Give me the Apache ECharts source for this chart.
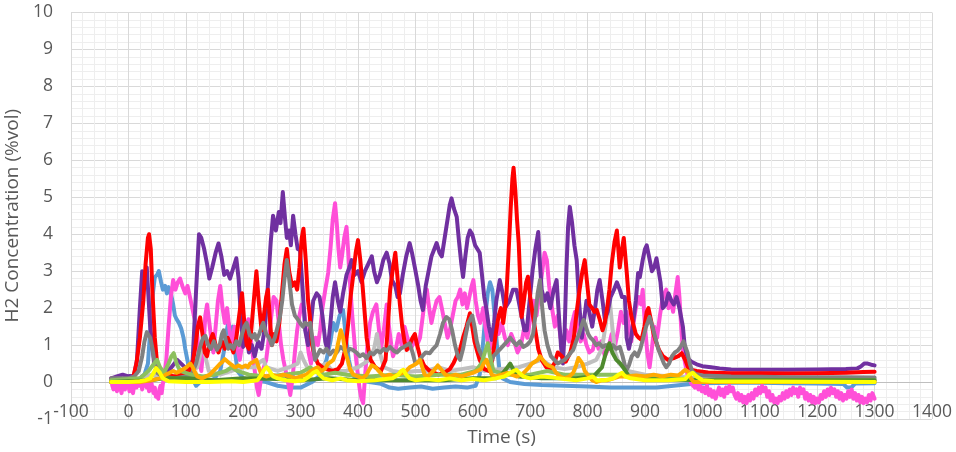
<!DOCTYPE html>
<html>
<head>
<meta charset="utf-8">
<script src="https://cdn.jsdelivr.net/npm/echarts@6/dist/echarts.min.js"></script>
<style>
  html, body { margin: 0; padding: 0; background: #ffffff; }
  #chart { width: 956px; height: 452px; }
</style>
</head>
<body>
<div id="chart"></div>
<script>
// Axis ticks
const timeTicks = { min: -100, max: 1400, step: 100 };
const concTicks = { min: -1, max: 10, step: 1 };

// Hydrogen concentration traces, [time (s), %vol]
const blueTrace = [[-30,0.0],[0,0.0],[10,0.05],[20,0.1],[28,0.2],[34,0.5],[38,1.4],[42,2.3],[46,2.84],[50,2.9],[53,3.0],[57,2.7],[60,2.5],[64,2.6],[67,2.4],[70,2.57],[74,2.4],[78,2.1],[81,1.8],[84,1.7],[88,1.6],[92,1.45],[96,1.2],[99,0.9],[104,0.5],[108,0.2],[113,0.05],[118,-0.1],[125,0.0],[132,0.1],[140,0.0],[150,0.1],[160,0.3],[166,0.8],[170,1.3],[174,1.6],[178,1.2],[182,1.5],[186,0.8],[190,0.3],[200,0.1],[220,0.05],[240,0.0],[260,-0.1],[280,-0.15],[300,-0.15],[320,0.0],[335,0.2],[345,0.6],[352,1.1],[357,1.6],[362,1.4],[368,1.8],[374,1.95],[379,1.2],[384,0.6],[390,0.2],[400,0.05],[420,0.0],[440,-0.05],[455,-0.15],[470,-0.18],[490,-0.15],[510,-0.12],[530,-0.18],[550,-0.15],[570,-0.12],[590,-0.15],[605,-0.1],[612,0.2],[617,0.9],[622,1.8],[626,2.4],[630,2.7],[634,2.5],[638,1.8],[642,1.0],[646,0.4],[652,0.1],[665,0.0],[690,-0.05],[720,-0.08],[760,-0.1],[800,-0.12],[840,-0.15],[880,-0.15],[920,-0.15],[950,-0.1],[980,-0.05],[1000,-0.03],[1050,-0.02],[1100,-0.02],[1150,-0.03],[1200,-0.04],[1245,-0.05],[1252,-0.15],[1260,-0.14],[1266,-0.04],[1300,-0.03]];

const magentaTrace = [[-30,0.1],[-28,-0.1],[-26,-0.2],[-24,0.05],[-22,-0.05],[-20,-0.25],[-18,-0.1],[-16,0.05],[-14,-0.15],[-12,-0.3],[-10,-0.1],[-8,0.0],[-6,-0.2],[-4,0.05],[-2,0.1],[0,-0.1],[2,-0.25],[4,-0.05],[6,-0.2],[8,-0.3],[10,-0.1],[12,0.0],[14,-0.15],[16,-0.05],[18,0.05],[20,-0.1],[22,0.0],[24,-0.2],[26,-0.05],[28,0.1],[30,0.0],[32,-0.15],[34,-0.05],[36,-0.25],[38,-0.1],[40,0.0],[42,-0.2],[44,-0.3],[46,-0.15],[48,-0.4],[50,-0.3],[52,-0.45],[54,-0.2],[56,-0.1],[58,-0.3],[60,-0.05],[62,0.1],[66,0.6],[70,1.5],[74,2.3],[78,2.76],[82,2.5],[86,2.7],[90,2.8],[94,2.6],[99,2.4],[103,2.6],[106,2.55],[110,2.1],[114,1.8],[119,1.5],[123,0.6],[127,0.3],[131,1.0],[134,1.8],[137,2.1],[141,1.6],[145,1.1],[148,0.8],[152,1.5],[156,2.2],[160,2.6],[164,2.0],[168,1.6],[172,2.0],[177,1.3],[181,1.1],[185,1.5],[190,0.9],[194,0.6],[198,1.0],[203,1.4],[209,1.7],[213,1.2],[217,0.7],[221,0.2],[224,-0.15],[227,-0.35],[231,0.1],[236,0.4],[240,0.6],[244,1.1],[249,1.8],[253,2.3],[258,2.2],[262,1.6],[266,1.0],[270,0.6],[274,0.3],[278,0.0],[282,-0.35],[286,0.1],[290,0.8],[294,1.4],[298,1.8],[302,2.1],[306,2.0],[310,1.3],[314,0.8],[318,0.5],[322,0.9],[326,1.2],[330,1.0],[334,1.4],[338,2.0],[343,2.5],[348,2.95],[352,3.6],[356,4.4],[360,4.84],[363,4.3],[366,3.6],[369,3.1],[372,3.4],[376,3.9],[380,4.2],[383,3.5],[386,2.7],[390,1.8],[395,0.87],[399,0.3],[403,-0.2],[406,-0.45],[409,-0.57],[412,0.1],[416,0.9],[421,1.6],[426,1.9],[432,2.1],[436,1.5],[440,0.9],[445,1.4],[450,2.1],[454,1.5],[458,1.0],[461,0.7],[466,0.9],[471,1.3],[476,1.0],[481,1.5],[486,1.2],[492,0.9],[498,1.1],[503,1.0],[508,1.2],[513,1.8],[517,2.3],[520,2.5],[524,2.0],[528,1.6],[532,1.9],[537,2.2],[542,2.3],[546,2.0],[551,1.6],[556,1.2],[560,1.4],[565,1.8],[570,2.2],[574,2.3],[578,2.5],[582,2.1],[586,2.4],[590,2.0],[594,2.3],[598,2.6],[601,2.76],[605,2.2],[609,1.8],[613,1.6],[618,2.0],[622,1.5],[626,1.1],[630,0.9],[635,1.2],[640,1.5],[645,1.3],[650,1.6],[656,1.2],[661,1.0],[667,1.3],[672,1.1],[678,0.8],[684,1.0],[690,1.5],[695,1.2],[700,1.7],[706,2.2],[711,1.8],[716,2.4],[721,3.0],[725,3.5],[729,3.3],[733,2.6],[738,2.0],[743,1.5],[748,1.8],[753,1.2],[758,1.0],[763,1.4],[768,1.1],[773,1.6],[778,1.9],[783,1.4],[788,1.1],[793,1.3],[798,1.0],[803,0.8],[809,0.87],[814,1.2],[819,0.9],[824,1.1],[830,0.7],[836,0.9],[842,1.3],[848,1.0],[853,1.4],[858,1.9],[863,1.6],[868,1.9],[872,1.5],[876,1.1],[880,1.6],[884,2.0],[889,2.3],[893,2.1],[896,2.5],[900,1.5],[904,0.8],[908,0.4],[912,0.9],[916,1.5],[921,1.2],[926,1.8],[930,2.2],[934,2.4],[937,2.5],[941,2.0],[945,2.2],[949,1.9],[953,2.4],[957,2.84],[960,2.3],[963,1.5],[966,0.87],[970,0.5],[974,0.2],[978,0.05],[981,-0.05],[984,0.0],[987,-0.15],[990,-0.05],[993,-0.2],[996,-0.1],[999,-0.25],[1002,-0.15],[1005,-0.3],[1008,-0.1],[1011,-0.35],[1014,-0.2],[1017,-0.4],[1020,-0.25],[1023,-0.45],[1026,-0.3],[1029,-0.15],[1032,-0.35],[1035,-0.2],[1038,-0.4],[1041,-0.15],[1044,-0.3],[1047,-0.1],[1050,-0.25],[1053,-0.15],[1056,-0.35],[1059,-0.45],[1062,-0.3],[1065,-0.5],[1068,-0.35],[1071,-0.55],[1074,-0.4],[1077,-0.57],[1080,-0.35],[1083,-0.5],[1086,-0.3],[1089,-0.45],[1092,-0.2],[1095,-0.35],[1098,-0.15],[1101,-0.3],[1104,-0.1],[1107,-0.25],[1110,-0.15],[1113,-0.4],[1116,-0.25],[1119,-0.5],[1122,-0.35],[1125,-0.55],[1128,-0.45],[1131,-0.57],[1134,-0.4],[1137,-0.5],[1140,-0.3],[1143,-0.45],[1146,-0.25],[1149,-0.4],[1152,-0.2],[1155,-0.35],[1158,-0.15],[1161,-0.3],[1164,-0.2],[1167,-0.4],[1170,-0.15],[1173,-0.3],[1176,-0.2],[1179,-0.45],[1182,-0.3],[1185,-0.5],[1188,-0.35],[1191,-0.55],[1194,-0.4],[1197,-0.57],[1200,-0.45],[1203,-0.55],[1206,-0.35],[1209,-0.45],[1212,-0.25],[1215,-0.4],[1218,-0.2],[1221,-0.35],[1224,-0.15],[1227,-0.3],[1230,-0.2],[1233,-0.4],[1236,-0.25],[1239,-0.45],[1242,-0.3],[1245,-0.5],[1248,-0.35],[1251,-0.45],[1254,-0.25],[1257,-0.4],[1260,-0.2],[1263,-0.45],[1266,-0.3],[1269,-0.5],[1272,-0.35],[1275,-0.55],[1278,-0.4],[1281,-0.57],[1284,-0.45],[1287,-0.55],[1290,-0.35],[1293,-0.5],[1296,-0.3],[1300,-0.45]];

const lightGreyTrace = [[-30,0.05],[20,0.1],[40,0.2],[60,0.15],[100,0.2],[120,0.4],[126,0.8],[130,1.1],[134,0.7],[140,0.3],[160,0.2],[180,0.3],[200,0.4],[220,0.4],[230,0.55],[235,0.6],[240,0.4],[260,0.3],[280,0.4],[295,0.5],[300,0.8],[305,0.6],[315,0.3],[330,0.4],[345,0.5],[355,0.3],[380,0.3],[400,0.4],[420,0.6],[428,0.9],[433,1.3],[438,0.8],[445,0.4],[460,0.3],[480,0.25],[500,0.3],[520,0.3],[540,0.4],[560,0.3],[580,0.35],[600,0.4],[620,0.3],[650,0.35],[680,0.4],[700,0.5],[720,0.6],[740,0.4],[760,0.35],[780,0.4],[800,0.5],[815,0.6],[825,0.9],[832,1.6],[838,2.3],[843,1.5],[848,0.8],[855,0.5],[870,0.3],[900,0.2],[950,0.15],[1000,0.1],[1300,0.08]];

const purpleTrace = [[-30,0.1],[-20,0.15],[-10,0.2],[0,0.15],[10,0.2],[15,0.6],[20,2.0],[24,3.0],[28,2.6],[32,3.1],[38,1.5],[45,0.5],[55,0.3],[65,0.25],[75,0.4],[85,0.6],[95,0.45],[105,0.3],[112,0.6],[118,2.5],[123,4.0],[127,3.9],[132,3.6],[137,3.2],[141,2.8],[146,3.1],[152,3.5],[157,3.75],[162,3.4],[167,2.9],[172,3.0],[177,2.8],[183,3.1],[188,3.35],[192,2.8],[196,1.8],[200,0.95],[205,1.3],[210,0.8],[215,1.0],[220,0.7],[226,1.1],[232,0.9],[238,1.5],[243,2.6],[248,3.8],[252,4.5],[257,4.1],[262,4.6],[265,4.3],[269,5.14],[273,4.4],[276,3.9],[280,4.1],[283,3.7],[287,4.5],[291,4.0],[295,3.6],[299,3.57],[304,2.4],[308,1.4],[313,1.0],[318,1.6],[322,2.2],[328,2.4],[333,2.3],[338,1.8],[343,1.1],[347,0.85],[352,1.6],[356,2.3],[360,2.7],[365,2.2],[369,1.9],[374,2.4],[380,2.9],[385,3.1],[389,3.3],[394,2.9],[400,3.0],[406,2.7],[412,3.0],[418,3.2],[424,3.4],[428,3.0],[433,2.7],[438,2.9],[444,3.3],[450,3.5],[455,3.2],[459,2.76],[465,2.6],[469,2.3],[473,2.4],[478,2.9],[484,3.4],[490,3.76],[494,3.5],[499,3.1],[505,2.6],[509,2.2],[513,1.95],[518,2.6],[523,3.0],[528,3.4],[533,3.6],[537,3.76],[542,3.5],[546,3.4],[551,3.9],[556,4.4],[560,4.8],[563,4.97],[567,4.7],[572,4.47],[576,3.8],[580,3.2],[583,2.84],[587,3.4],[591,3.9],[595,4.1],[599,4.0],[604,3.7],[608,3.6],[612,3.5],[616,2.9],[620,2.3],[624,1.95],[628,1.5],[633,1.14],[637,1.6],[641,2.2],[647,2.76],[652,2.4],[656,2.0],[659,1.95],[664,2.2],[670,2.5],[676,2.5],[681,2.1],[686,1.7],[690,1.4],[694,1.4],[699,2.2],[704,3.0],[709,3.6],[714,4.06],[717,3.2],[720,2.5],[725,2.2],[730,2.4],[735,2.0],[741,2.5],[746,2.76],[750,1.8],[754,0.9],[757,0.5],[760,1.4],[763,3.0],[766,4.2],[769,4.74],[773,4.3],[777,3.7],[781,3.3],[785,2.2],[790,1.2],[794,1.7],[798,2.2],[803,1.9],[808,1.5],[813,2.0],[817,2.5],[821,2.76],[826,2.2],[830,1.7],[835,1.9],[840,2.3],[846,2.5],[851,2.7],[856,2.5],[860,2.3],[865,2.3],[868,1.2],[872,0.9],[876,1.2],[879,1.2],[884,2.2],[888,2.95],[891,2.84],[896,3.3],[900,3.6],[903,3.7],[907,3.4],[912,3.0],[916,3.1],[920,3.35],[923,3.4],[927,2.7],[931,2.0],[936,2.1],[941,2.4],[946,2.2],[950,2.1],[955,2.3],[960,2.0],[966,1.5],[969,1.0],[972,0.78],[976,0.62],[981,0.55],[990,0.48],[1000,0.43],[1015,0.4],[1030,0.37],[1050,0.34],[1100,0.33],[1150,0.33],[1200,0.34],[1250,0.35],[1270,0.37],[1276,0.42],[1282,0.5],[1288,0.5],[1294,0.47],[1300,0.45]];

const redTrace = [[-30,0.0],[0,0.05],[8,0.1],[14,0.5],[20,1.2],[26,2.2],[30,3.2],[34,3.9],[36,4.0],[39,3.6],[42,2.4],[46,1.2],[50,0.5],[55,0.25],[65,0.2],[80,0.15],[95,0.2],[105,0.3],[112,0.5],[117,1.0],[121,1.5],[125,1.75],[129,1.3],[133,0.8],[137,0.7],[142,1.1],[147,1.3],[152,1.0],[157,0.8],[163,1.1],[168,0.9],[173,1.2],[178,1.0],[183,0.8],[188,1.2],[193,1.8],[198,2.4],[202,1.6],[206,1.0],[210,0.9],[214,1.4],[219,2.3],[223,3.0],[227,2.2],[232,1.4],[236,1.8],[240,2.3],[243,2.5],[247,1.6],[250,1.0],[254,1.3],[258,1.1],[263,1.6],[268,2.5],[272,3.2],[276,3.6],[280,3.0],[285,2.6],[290,2.7],[294,2.5],[298,3.1],[302,3.9],[305,4.15],[309,3.3],[313,2.2],[316,1.8],[320,1.0],[325,0.7],[330,0.5],[338,0.4],[345,0.35],[355,0.3],[365,0.35],[372,0.5],[378,0.9],[383,1.6],[387,2.3],[391,2.8],[396,3.5],[400,3.84],[404,3.3],[408,2.6],[412,1.8],[415,1.2],[419,0.8],[422,0.6],[430,0.4],[440,0.3],[448,0.6],[452,1.5],[456,2.5],[461,3.1],[465,3.5],[469,2.8],[473,2.1],[477,1.5],[481,1.1],[485,0.87],[490,1.0],[495,1.2],[499,1.3],[503,1.0],[508,0.7],[515,0.45],[525,0.3],[540,0.2],[550,0.25],[560,0.35],[566,0.5],[572,0.7],[578,0.9],[583,1.2],[589,1.5],[595,1.86],[599,1.5],[603,1.1],[607,0.87],[612,0.6],[620,0.35],[628,0.3],[634,0.6],[640,1.3],[645,1.8],[649,2.0],[653,1.6],[658,2.2],[662,3.4],[666,4.7],[669,5.5],[671,5.8],[674,5.2],[677,4.4],[680,3.76],[683,2.6],[685,1.76],[689,2.2],[693,2.7],[696,2.85],[700,2.3],[705,1.76],[710,1.3],[714,0.9],[720,0.6],[728,0.4],[735,0.35],[742,0.5],[748,0.8],[755,0.7],[762,0.55],[770,0.8],[776,1.2],[781,1.9],[786,2.5],[791,3.0],[795,3.3],[799,2.7],[803,2.1],[808,2.0],[812,1.9],[816,1.95],[821,1.7],[826,1.4],[830,1.6],[834,2.0],[838,2.5],[842,3.2],[847,3.8],[851,4.1],[854,3.5],[856,3.1],[860,3.6],[863,3.9],[865,3.9],[868,3.0],[872,2.2],[876,1.8],[879,1.6],[884,1.3],[889,1.2],[894,1.14],[899,1.5],[903,1.9],[906,2.0],[910,1.7],[915,1.3],[920,1.05],[925,0.85],[931,0.7],[940,0.6],[950,0.65],[958,0.7],[964,0.78],[970,0.6],[975,0.4],[982,0.33],[990,0.3],[1010,0.26],[1050,0.24],[1100,0.24],[1150,0.23],[1200,0.24],[1250,0.25],[1280,0.27],[1300,0.28]];

const darkGreyTrace = [[-30,0.1],[0,0.1],[10,0.15],[18,0.3],[24,0.7],[28,1.1],[32,1.35],[35,1.4],[38,1.2],[42,0.9],[46,0.5],[50,0.25],[60,0.15],[80,0.1],[100,0.15],[110,0.2],[118,0.5],[124,0.9],[130,1.2],[134,1.25],[139,1.0],[144,0.9],[149,1.1],[154,0.87],[159,1.0],[163,1.3],[166,1.4],[170,1.1],[174,0.9],[178,1.0],[183,0.9],[188,1.1],[193,1.0],[198,1.3],[202,1.5],[206,1.6],[211,1.3],[216,1.2],[220,1.3],[223,1.14],[228,1.3],[232,1.5],[235,1.6],[240,1.3],[245,1.2],[250,1.0],[255,1.2],[260,1.5],[264,1.76],[268,2.2],[272,2.8],[276,3.3],[280,2.8],[285,2.1],[290,1.8],[295,1.7],[299,1.6],[304,1.5],[308,1.6],[313,1.55],[317,1.6],[321,1.1],[325,0.6],[330,0.75],[334,0.87],[340,0.8],[345,0.9],[351,0.75],[357,0.85],[363,0.8],[369,0.95],[374,0.9],[380,0.8],[386,0.9],[391,0.87],[397,0.8],[403,0.7],[409,0.75],[415,0.65],[421,0.8],[427,0.75],[433,0.85],[439,0.8],[445,0.9],[450,0.85],[456,0.95],[462,0.85],[468,0.8],[474,0.9],[480,0.95],[485,1.0],[490,1.05],[495,0.8],[500,0.5],[506,0.55],[512,0.7],[518,0.8],[525,0.78],[531,0.9],[537,1.0],[543,1.3],[548,1.6],[554,1.76],[559,1.7],[564,1.4],[569,1.0],[574,0.7],[578,0.6],[583,0.9],[588,1.3],[592,1.6],[595,1.68],[599,1.8],[603,1.5],[607,1.1],[611,0.87],[616,0.7],[621,0.6],[626,0.55],[630,0.5],[636,0.7],[642,0.8],[648,0.9],[654,1.0],[660,1.1],[665,1.2],[670,1.1],[676,1.0],[682,1.1],[688,0.95],[694,1.0],[700,1.1],[705,1.3],[709,1.8],[713,2.4],[717,2.76],[721,2.0],[725,1.4],[730,1.0],[736,0.7],[742,0.6],[748,0.5],[754,0.55],[760,0.6],[766,0.7],[771,0.8],[775,0.87],[780,1.1],[785,1.3],[789,1.5],[793,1.68],[797,1.5],[801,1.3],[805,1.2],[809,1.14],[815,1.0],[820,1.05],[826,0.95],[832,1.0],[838,0.9],[844,1.0],[850,0.9],[856,0.95],[861,0.7],[865,0.45],[868,0.33],[872,0.45],[877,0.7],[882,0.8],[887,0.7],[892,0.9],[897,1.2],[902,1.5],[908,1.76],[913,1.5],[918,1.2],[923,0.9],[928,0.7],[933,0.5],[937,0.4],[942,0.5],[947,0.7],[952,0.8],[957,0.85],[962,0.95],[967,1.1],[970,1.14],[974,0.8],[978,0.5],[982,0.3],[988,0.22],[1000,0.18],[1050,0.15],[1100,0.14],[1150,0.13],[1200,0.13],[1250,0.13],[1300,0.12]];

const lightGreenTrace = [[-30,0.05],[20,0.1],[35,0.3],[45,0.5],[50,0.6],[55,0.4],[62,0.25],[70,0.5],[75,0.7],[79,0.78],[84,0.5],[90,0.3],[100,0.25],[110,0.2],[130,0.15],[150,0.2],[170,0.3],[180,0.4],[190,0.3],[210,0.2],[240,0.15],[270,0.2],[300,0.25],[312,0.35],[317,0.4],[322,0.3],[340,0.2],[360,0.25],[380,0.2],[420,0.15],[460,0.2],[500,0.15],[540,0.2],[580,0.2],[605,0.3],[615,0.5],[621,0.8],[626,1.05],[630,0.7],[636,0.3],[660,0.2],[700,0.2],[730,0.3],[760,0.2],[800,0.2],[850,0.2],[900,0.15],[950,0.1],[1000,0.05],[1300,0.05]];

const darkGreenTrace = [[-30,0.0],[40,0.05],[60,0.1],[100,0.1],[150,0.05],[200,0.1],[260,0.08],[300,0.05],[350,0.1],[400,0.05],[450,0.05],[500,0.05],[550,0.05],[600,0.1],[640,0.1],[650,0.2],[658,0.35],[665,0.5],[672,0.3],[680,0.15],[720,0.1],[780,0.1],[810,0.15],[825,0.4],[832,0.8],[838,1.05],[843,0.8],[850,0.6],[857,0.5],[864,0.35],[872,0.15],[900,0.08],[1000,0.05],[1300,0.05]];

const orangeTrace = [[-30,0.0],[20,0.0],[40,0.05],[55,0.1],[65,0.2],[72,0.25],[78,0.3],[84,0.25],[90,0.3],[96,0.35],[101,0.4],[108,0.5],[112,0.4],[115,0.3],[120,0.15],[128,0.1],[135,0.15],[142,0.2],[148,0.3],[154,0.4],[160,0.5],[164,0.55],[168,0.62],[173,0.55],[177,0.5],[180,0.45],[186,0.4],[192,0.45],[198,0.4],[204,0.45],[208,0.4],[212,0.5],[218,0.55],[223,0.6],[227,0.4],[232,0.2],[240,0.15],[250,0.2],[260,0.15],[270,0.2],[282,0.15],[290,0.1],[300,0.15],[310,0.2],[318,0.3],[324,0.35],[330,0.4],[336,0.3],[342,0.35],[348,0.5],[353,0.55],[357,0.6],[362,0.8],[366,1.1],[370,1.4],[374,1.2],[378,0.8],[382,0.6],[386,0.35],[392,0.2],[400,0.15],[408,0.1],[415,0.2],[420,0.35],[424,0.45],[427,0.5],[431,0.4],[436,0.3],[442,0.2],[448,0.15],[455,0.2],[462,0.15],[470,0.2],[478,0.25],[484,0.3],[490,0.4],[496,0.45],[502,0.5],[508,0.6],[512,0.4],[516,0.2],[522,0.15],[528,0.25],[534,0.35],[539,0.45],[542,0.5],[547,0.3],[552,0.2],[560,0.15],[570,0.2],[580,0.15],[590,0.2],[600,0.25],[608,0.3],[614,0.35],[619,0.5],[624,0.6],[628,0.4],[633,0.2],[640,0.15],[650,0.2],[660,0.25],[668,0.2],[676,0.15],[685,0.2],[692,0.3],[698,0.4],[703,0.5],[708,0.55],[713,0.6],[717,0.7],[722,0.6],[727,0.5],[731,0.45],[734,0.5],[739,0.4],[745,0.25],[752,0.15],[760,0.1],[768,0.15],[775,0.25],[780,0.45],[784,0.65],[787,0.7],[791,0.5],[795,0.3],[800,0.2],[808,0.05],[815,0.0],[825,0.05],[835,0.05],[845,0.1],[855,0.15],[870,0.15],[885,0.18],[900,0.15],[915,0.2],[930,0.15],[945,0.2],[958,0.18],[964,0.25],[970,0.33],[975,0.28],[980,0.1],[985,0.0],[1000,0.0],[1300,0.0]];

const yellowTrace = [[-30,0.0],[0,0.0],[20,0.02],[30,0.05],[38,0.1],[44,0.25],[48,0.38],[51,0.4],[55,0.25],[60,0.1],[70,0.02],[100,0.0],[140,0.0],[180,0.02],[200,0.0],[225,0.05],[232,0.2],[237,0.35],[241,0.4],[246,0.3],[252,0.15],[260,0.1],[275,0.05],[290,0.02],[305,0.05],[315,0.15],[322,0.25],[328,0.3],[333,0.2],[340,0.1],[355,0.05],[370,0.1],[380,0.05],[400,0.02],[430,0.05],[460,0.1],[470,0.2],[475,0.3],[479,0.33],[484,0.2],[490,0.1],[500,0.05],[520,0.08],[540,0.05],[560,0.1],[580,0.05],[600,0.08],[620,0.05],[640,0.1],[655,0.15],[665,0.25],[671,0.3],[676,0.33],[681,0.25],[688,0.15],[700,0.1],[720,0.15],[740,0.12],[760,0.08],[780,0.05],[800,0.1],[809,0.15],[816,0.05],[830,0.05],[845,0.1],[854,0.2],[860,0.25],[866,0.15],[875,0.1],[900,0.05],[940,0.05],[970,0.08],[977,0.2],[983,0.25],[990,0.15],[1000,0.05],[1020,0.02],[1300,0.0]];

// Drawing order: later entries sit on top
const traces = [
  { data: blueTrace, color: '#5B9BD5' },
  { data: magentaTrace, color: '#FF4FD8' },
  { data: lightGreyTrace, color: '#BFBFBF' },
  { data: purpleTrace, color: '#7030A0' },
  { data: redTrace, color: '#FF0000' },
  { data: darkGreyTrace, color: '#808080' },
  { data: lightGreenTrace, color: '#8CC05E' },
  { data: darkGreenTrace, color: '#4E8A2E' },
  { data: orangeTrace, color: '#FFAA00' },
  { data: yellowTrace, color: '#FFFF00' }
];

const labelFont = '"Open Sans", "Liberation Sans", sans-serif';
const plainNumber = v => String(v);
const chart = echarts.init(document.getElementById('chart'), null, { renderer: 'canvas' });

chart.setOption({
  animation: false,
  backgroundColor: '#ffffff',
  grid: { left: 71, right: 24, top: 12.5, bottom: 33, containLabel: false, outerBoundsMode: 'none' },
  xAxis: {
    type: 'value',
    min: timeTicks.min, max: timeTicks.max, interval: timeTicks.step,
    offset: 0,
    name: 'Time (s)', nameLocation: 'middle', nameGap: 46,
    nameTextStyle: { fontFamily: labelFont, fontSize: 19, color: '#595959' },
    axisLine: { show: true, onZero: false, lineStyle: { color: '#BFBFBF', width: 1 } },
    axisTick: { show: false },
    axisLabel: { fontFamily: labelFont, fontSize: 17.5, color: '#595959', margin: 21, formatter: plainNumber, showMinLabel: true, showMaxLabel: true, hideOverlap: false },
    splitLine: { show: true, lineStyle: { color: '#D9D9D9', width: 1 } },
    minorTick: { show: false, splitNumber: 5 },
    minorSplitLine: { show: true, lineStyle: { color: '#EEEEEE', width: 1 } }
  },
  yAxis: {
    type: 'value',
    min: concTicks.min, max: concTicks.max, interval: concTicks.step,
    name: 'H2 Concentration (%vol)', nameLocation: 'middle', nameGap: 41, nameRotate: 90,
    nameTextStyle: { fontFamily: labelFont, fontSize: 19, color: '#595959' },
    axisLine: { show: false },
    axisTick: { show: false },
    axisLabel: { fontFamily: labelFont, fontSize: 17.5, color: '#595959', margin: 18, formatter: plainNumber, showMinLabel: true, showMaxLabel: true, hideOverlap: false },
    splitLine: { show: true, lineStyle: { color: '#D9D9D9', width: 1 } },
    minorTick: { show: false, splitNumber: 5 },
    minorSplitLine: { show: true, lineStyle: { color: '#EEEEEE', width: 1 } }
  },
  series: traces.map(t => ({
    type: 'line',
    data: t.data,
    showSymbol: false,
    symbol: 'none',
    smooth: false,
    clip: true,
    lineStyle: { color: t.color, width: 4, join: 'round', cap: 'round' },
    itemStyle: { color: t.color },
    emphasis: { disabled: true }
  }))
});

// The time axis crosses the concentration axis at 0: shift it up from the plot's bottom edge
const zeroY = chart.convertToPixel({ yAxisIndex: 0 }, 0);
const bottomY = chart.convertToPixel({ yAxisIndex: 0 }, concTicks.min);
chart.setOption({ xAxis: { offset: zeroY - bottomY } });
</script>
</body>
</html>
